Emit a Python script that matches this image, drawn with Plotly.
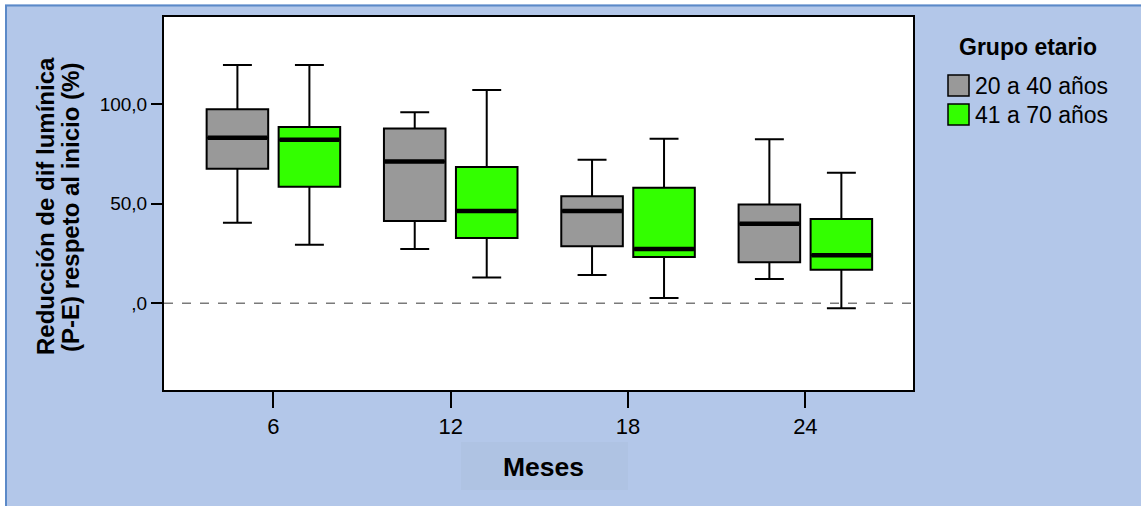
import plotly.graph_objects as go

# ---------------- data ----------------
categories = ["6", "12", "18", "24"]
series_names = ["20 a 40 años", "41 a 70 años"]

g1_low = [40.5, 27.3, 14.2, 12.2]
g1_q1 = [67.6, 41.4, 28.6, 20.6]
g1_med = [83.2, 71.2, 46.4, 40.0]
g1_q3 = [97.5, 87.9, 53.8, 49.7]
g1_high = [119.8, 96.0, 72.2, 82.4]

g2_low = [29.4, 12.9, 2.7, -2.5]
g2_q1 = [58.6, 32.8, 23.3, 16.9]
g2_med = [82.2, 46.4, 27.3, 24.1]
g2_q3 = [88.6, 68.5, 58.1, 42.4]
g2_high = [119.8, 107.2, 82.7, 65.6]

ytick_vals = [0, 50, 100]
ytick_text = [",0", "50,0", "100,0"]

colors = ["#999999", "#33ff00"]
BG = "#b3c7e9"

# ---------------- geometry ----------------
W, H = 1141, 506
L, R, T, B = 164, 228, 17, 116
PW, PH = W - L - R, H - T - B
BOXGAP, GROUPGAP = 0.188, 0.145


def xp(px):
    return (px - L) / PW


def yp(py):
    return (H - B - py) / PH


pos = list(range(len(categories)))
fig = go.Figure()

groups = [
    (g1_low, g1_q1, g1_med, g1_q3, g1_high),
    (g2_low, g2_q1, g2_med, g2_q3, g2_high),
]
for k, (lo, q1, med, q3, hi) in enumerate(groups):
    fig.add_trace(go.Box(
        x=pos, q1=q1, median=med, q3=q3, lowerfence=lo, upperfence=hi,
        name=series_names[k], fillcolor=colors[k],
        line=dict(color="black", width=2), whiskerwidth=0.47,
        boxpoints=False, showlegend=False, hoverinfo="skip",
    ))

# thick median lines, placed with the same offsets plotly uses for grouped boxes
n = len(groups)
for k, (lo, q1, med, q3, hi) in enumerate(groups):
    off = 2 * 0.5 * (-0.5 + (k + 0.5) / n) * (1 - BOXGAP)
    hw = 0.5 * (1 - BOXGAP) * (1 - GROUPGAP) / n
    xs, ys = [], []
    for p, m in zip(pos, med):
        xs += [p + off - hw + 0.005, p + off + hw - 0.005, None]
        ys += [m, m, None]
    fig.add_trace(go.Scatter(x=xs, y=ys, mode="lines",
                             line=dict(color="black", width=4.5),
                             showlegend=False, hoverinfo="skip"))

shapes = [
    # zero reference line
    dict(type="line", xref="paper", yref="y", x0=0, x1=1, y0=0, y1=0,
         line=dict(color="#7a7a7a", width=1.6, dash="dash"), layer="below"),
    # x title background
    dict(type="rect", xref="paper", yref="paper", x0=xp(461), x1=xp(628),
         y0=yp(490), y1=yp(442), fillcolor="#afc3e3", line=dict(width=0),
         layer="below"),
    # white outer margin (left/top)
    dict(type="rect", xref="paper", yref="paper", x0=xp(-2), x1=xp(5),
         y0=yp(H + 2), y1=yp(-2), fillcolor="white", line=dict(width=0)),
    dict(type="rect", xref="paper", yref="paper", x0=xp(-2), x1=xp(W + 2),
         y0=yp(4.5), y1=yp(-2), fillcolor="white", line=dict(width=0)),
    # darker frame edges
    dict(type="line", xref="paper", yref="paper", x0=xp(6), x1=xp(6),
         y0=yp(H + 2), y1=yp(5), line=dict(color="#5b89c8", width=2)),
    dict(type="line", xref="paper", yref="paper", x0=xp(5), x1=xp(W + 2),
         y0=yp(5.5), y1=yp(5.5), line=dict(color="#5b89c8", width=2)),
]

# legend drawn manually (square swatches as in the original)
sq_tops = [75, 104]
for k in range(n):
    shapes.append(dict(type="rect", xref="paper", yref="paper",
                       x0=xp(948), x1=xp(969), y0=yp(sq_tops[k] + 21), y1=yp(sq_tops[k]),
                       fillcolor=colors[k], line=dict(color="black", width=1.5)))

annotations = [
    dict(text="<b>Grupo etario</b>", xref="paper", yref="paper", x=xp(1028), y=yp(47),
         showarrow=False, font=dict(size=23, color="black"), xanchor="center", yanchor="middle"),
    dict(text="<b>Meses</b>", xref="paper", yref="paper", x=xp(543), y=yp(467),
         showarrow=False, font=dict(size=26.5, color="black"), xanchor="center", yanchor="middle"),
    dict(text="<b>Reducción de dif lumínica</b>", xref="paper", yref="paper", x=xp(45), y=yp(206),
         showarrow=False, textangle=-90, font=dict(size=24, color="black"),
         xanchor="center", yanchor="middle"),
    dict(text="<b>(P-E) respeto al inicio (%)</b>", xref="paper", yref="paper", x=xp(70), y=yp(208),
         showarrow=False, textangle=-90, font=dict(size=24, color="black"),
         xanchor="center", yanchor="middle"),
]
for k in range(n):
    annotations.append(dict(text=series_names[k], xref="paper", yref="paper", x=xp(973),
                            y=yp(sq_tops[k] + 11), showarrow=False,
                            font=dict(size=23, color="black"), xanchor="left", yanchor="middle"))

fig.update_layout(
    width=W, height=H,
    margin=dict(l=L, r=R, t=T, b=B, autoexpand=False),
    paper_bgcolor=BG, plot_bgcolor="white",
    font=dict(family="Arial, Liberation Sans, sans-serif", color="black"),
    boxmode="group", boxgap=BOXGAP, boxgroupgap=GROUPGAP,
    showlegend=False,
    shapes=shapes, annotations=annotations,
    xaxis=dict(range=[-0.617, 3.607], tickvals=pos, ticktext=categories,
               showline=True, mirror=True, linecolor="black", linewidth=2,
               ticks="outside", ticklen=16, tickwidth=2, tickcolor="black",
               showgrid=False, zeroline=False, tickfont=dict(size=22)),
    yaxis=dict(range=[-43.6, 143.9], tickvals=ytick_vals, ticktext=ytick_text,
               showline=True, mirror=True, linecolor="black", linewidth=2,
               ticks="outside", ticklen=11, tickwidth=2, tickcolor="black",
               showgrid=False, zeroline=False, tickfont=dict(size=19)),
)

fig.write_html("out.html",
               config={"displayModeBar": False},
               post_script="document.body.style.margin='0px';document.body.style.overflow='hidden';")
